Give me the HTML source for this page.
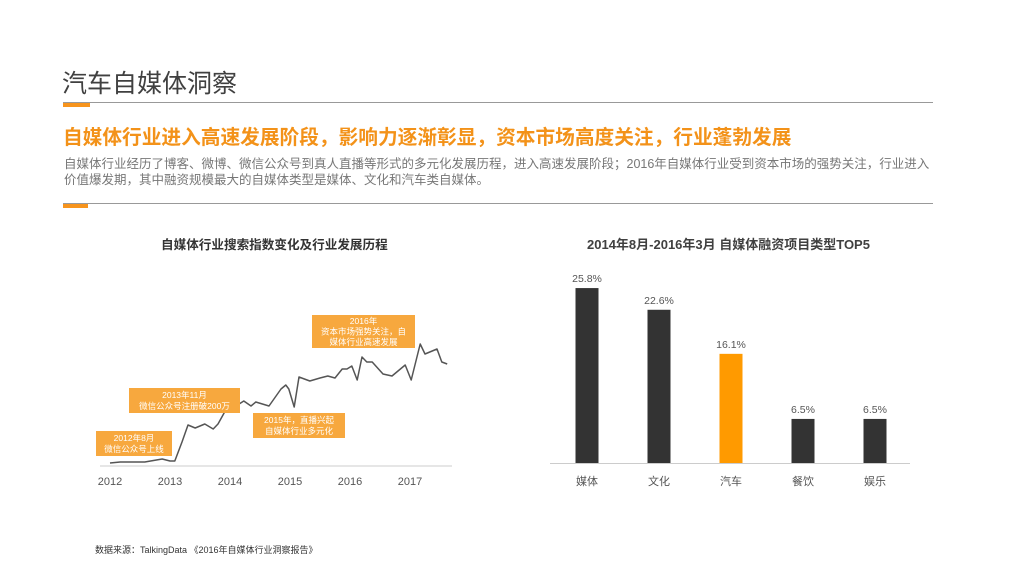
<!DOCTYPE html>
<html><head><meta charset="utf-8">
<style>
body{margin:0;width:1009px;height:568px;background:#fff;overflow:hidden;position:relative;font-family:"Liberation Sans","Noto Sans CJK SC",sans-serif}
.a{position:absolute;white-space:nowrap}
</style></head><body>
<div class="a" style="left:62px;top:64px;font-size:25px;color:#404040">汽车自媒体洞察</div>
<div class="a" style="left:63px;top:102px;width:870px;height:1px;background:#999"></div>
<div class="a" style="left:63px;top:103px;width:27px;height:4px;background:#f7941d"></div>
<div class="a" style="left:63px;top:121px;font-size:19.7px;font-weight:bold;color:#f39219">自媒体行业进入高速发展阶段，影响力逐渐彰显，资本市场高度关注，行业蓬勃发展</div>
<div class="a" style="left:64px;top:156px;width:874px;font-size:12.5px;line-height:16px;color:#777;white-space:normal">自媒体行业经历了博客、微博、微信公众号到真人直播等形式的多元化发展历程，进入高速发展阶段；2016年自媒体行业受到资本市场的强势关注，行业进入价值爆发期，其中融资规模最大的自媒体类型是媒体、文化和汽车类自媒体。</div>
<div class="a" style="left:63px;top:203px;width:870px;height:1px;background:#999"></div>
<div class="a" style="left:63px;top:204px;width:25px;height:4px;background:#f7941d"></div>
<div class="a" style="left:161px;top:234px;font-size:12.6px;font-weight:bold;color:#333">自媒体行业搜索指数变化及行业发展历程</div>
<div class="a" style="left:587px;top:234px;font-size:13px;font-weight:bold;color:#404040">2014年8月-2016年3月 自媒体融资项目类型TOP5</div>
<div class="a" style="left:95px;top:543px;font-size:9px;color:#333">数据来源：TalkingData 《2016年自媒体行业洞察报告》</div>
<svg id="c" class="a" style="left:0;top:0" width="1009" height="568"></svg>
<script>
const years=[2012,2012.17,2012.58,2012.87,2013,2013.08,2013.2,2013.3,2013.42,2013.58,2013.72,2013.8,2013.92,2014.1,2014.23,2014.35,2014.43,2014.65,2014.85,2014.93,2014.98,2015.07,2015.15,2015.33,2015.5,2015.63,2015.75,2015.87,2015.95,2016.03,2016.12,2016.2,2016.28,2016.37,2016.55,2016.7,2016.92,2017.02,2017.17,2017.25,2017.45,2017.53,2017.62];
const values=[2,3,3,6,4,4,23,40,37,41,36,41,54,59,64,59,63,59,76,80,76,58,88,84,87,89,87,96,96,99,85,108,103,103,91,89,100,85,121,111,116,103,101];
const cats=["媒体","文化","汽车","餐饮","娱乐"];
const pct=[25.8,22.6,16.1,6.5,6.5];
const pctLabels=["25.8%","22.6%","16.1%","6.5%","6.5%"];
const yearTicks=[2012,2013,2014,2015,2016,2017];
const notes=[["2012年8月","微信公众号上线"],["2013年11月","微信公众号注册破200万"],["2015年，直播兴起","自媒体行业多元化"],["2016年","资本市场强势关注，自","媒体行业高速发展"]];
const svg=document.getElementById('c');const NS='http://www.w3.org/2000/svg';
function mk(t,a,p){const e=document.createElementNS(NS,t);for(const k in a)e.setAttribute(k,a[k]);(p||svg).appendChild(e);return e;}
const X=y=>110+(y-2012)*60, Y=v=>465-v;
let ax=mk('line',{x1:100,x2:452,y1:466,y2:466,stroke:'#ccc'});

yearTicks.forEach(t=>{const e=mk('text',{x:X(t),y:485,'text-anchor':'middle','font-size':11,fill:'#555'});e.textContent=t;
});
let d=years.map((y,i)=>(i?'L':'M')+X(y)+','+Y(values[i])).join('');
let pl=mk('path',{d:d,fill:'none',stroke:'#555','stroke-width':1.5,'stroke-linejoin':'round'});

const boxes=[[96,431,76,25],[129,388,111,25],[253,413,92,25],[312,315,103,33]];
boxes.forEach((b,i)=>{const g=mk('g',{});
mk('rect',{x:b[0],y:b[1],width:b[2],height:b[3],fill:'#f7a83e'},g);
const n=notes[i];const lh=i==3?10.5:11;const y0=b[1]+b[3]/2-(n.length-1)*lh/2+3;
n.forEach((s,j)=>{const t=mk('text',{x:b[0]+b[2]/2,y:y0+j*lh,'text-anchor':'middle','font-size':8.5,fill:'#fff'},g);t.textContent=s;});});
const BY=p=>463-p*6.78;
let bx=mk('line',{x1:550,x2:910,y1:463.5,y2:463.5,stroke:'#ccc'});

cats.forEach((c,i)=>{const cx=587+i*72;
const r=mk('rect',{x:cx-11.5,y:BY(pct[i]),width:23,height:463-BY(pct[i]),fill:i==2?'#ff9a00':'#333'});

const v=mk('text',{x:cx,y:BY(pct[i])-6,'text-anchor':'middle','font-size':10.5,fill:'#555'});v.textContent=pctLabels[i];

const l=mk('text',{x:cx,y:485,'text-anchor':'middle','font-size':11,fill:'#555'});l.textContent=c;
});
</script>
</body></html>
